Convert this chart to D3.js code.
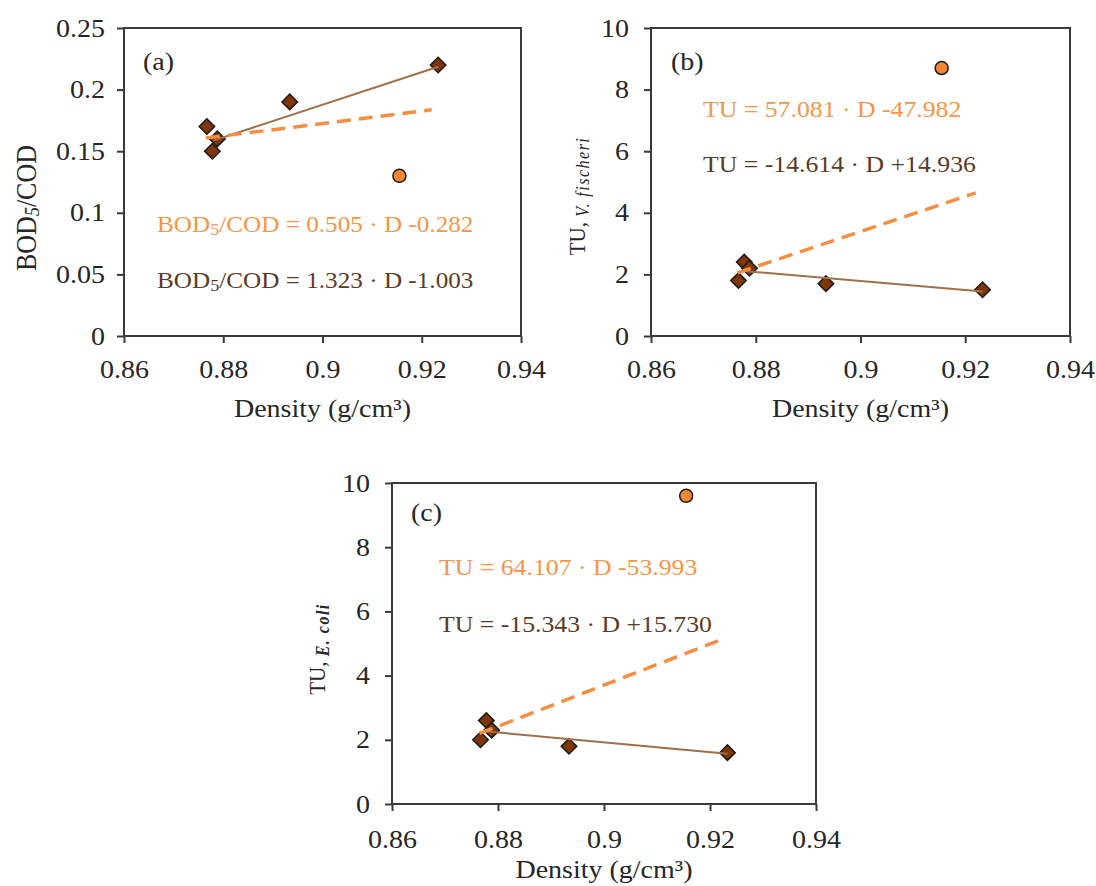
<!DOCTYPE html>
<html>
<head>
<meta charset="utf-8">
<script src="https://cdn.jsdelivr.net/npm/d3@7"></script>
<style>
  html, body { margin: 0; padding: 0; background: #fff; }
  svg { display: block; }
</style>
</head>
<body>
<svg id="chart" width="1096" height="886"></svg>
<script>
// data
var densities = [0.8767, 0.8778, 0.8788, 0.8934, 0.9233];
var outlierDensity = [0.9155];

var bodCod = [0.17, 0.15, 0.16, 0.19, 0.22];
var bodCodOutlier = [0.13];
var tuVFischeri = [1.8, 2.4, 2.2, 1.7, 1.5];
var tuVFischeriOutlier = [8.7];
var tuEColi = [2.0, 2.6, 2.3, 1.8, 1.6];
var tuEColiOutlier = [9.6];

var xTicks = [0.86, 0.88, 0.9, 0.92, 0.94];
var yTicksRatio = [0, 0.05, 0.1, 0.15, 0.2, 0.25];
var yTicksTU = [0, 2, 4, 6, 8, 10];

// trendlines as printed on the chart: [slope, intercept]
var fitAllA = [0.505, -0.282], fitBrownA = [1.323, -1.003];
var fitAllB = [57.081, -47.982], fitBrownB = [-14.614, 14.936];
var fitAllC = [64.107, -53.993], fitBrownC = [-15.343, 15.730];
var spanAll = [0.8765, 0.922];
var spanBrown = [0.878, 0.9233];

var eqAllB = "TU = 57.081 · D -47.982", eqBrownB = "TU = -14.614 · D +14.936";
var eqAllC = "TU = 64.107 · D -53.993", eqBrownC = "TU = -15.343 · D +15.730";

var svg = d3.select("#chart");
var SX = 1.12; // the figure text is a little wider than it is tall
var font = "'Liberation Serif', 'Times New Roman', serif";
var axisColor = "#3a3a3a",
    textColor = "#262626",
    orange = "#F79646",
    orangeLine = "#F58D42",
    circleFill = "#F58634",
    brownLine = "#A0704A",
    diamondFill = "#7E3508",
    brownText = "#5C3B24";

var panels = [
    { label: "(a)", left: 124, right: 521, top: 28, bottom: 336, ymax: 0.25, yTicks: yTicksRatio,
      ys: bodCod, yOut: bodCodOutlier, fitAll: fitAllA, fitBrown: fitBrownA, xPad: 17, yPad: 12,
      labelPos: [143, 70], eqX: 157, eqY: [231.5, 288], eqSize: 22.5 },
    { label: "(b)", left: 651, right: 1070, top: 28, bottom: 336, ymax: 10, yTicks: yTicksTU,
      ys: tuVFischeri, yOut: tuVFischeriOutlier, fitAll: fitAllB, fitBrown: fitBrownB, xPad: 17, yPad: 15,
      labelPos: [671, 70], eqX: 703, eqY: [117, 172], eqSize: 23, eq: [eqAllB, eqBrownB] },
    { label: "(c)", left: 392, right: 816, top: 483, bottom: 804, ymax: 10, yTicks: yTicksTU,
      ys: tuEColi, yOut: tuEColiOutlier, fitAll: fitAllC, fitBrown: fitBrownC, xPad: 19, yPad: 15,
      labelPos: [411, 521], eqX: 439, eqY: [575, 631.5], eqSize: 23, eq: [eqAllC, eqBrownC] }
];

function fmt(d) { return String(+d.toFixed(2)); }

function stretched(g, x, y, size, anchor) {
    return g.append("text")
        .attr("transform", "translate(" + x + "," + y + ") scale(" + SX + ",1)")
        .attr("font-family", font)
        .attr("font-size", size)
        .attr("text-anchor", anchor || "start");
}

panels.forEach(function(p, i) {
    var x = d3.scaleLinear().domain([0.86, 0.94]).range([p.left, p.right]);
    var y = d3.scaleLinear().domain([0, p.ymax]).range([p.bottom, p.top]);
    var g = svg.append("g");

    // x axis
    var gx = g.append("g")
        .attr("transform", "translate(0," + p.bottom + ")")
        .call(d3.axisBottom(x).tickValues(xTicks).tickFormat(fmt).tickSize(7).tickSizeOuter(0).tickPadding(p.xPad));
    // y axis
    var gy = g.append("g")
        .attr("transform", "translate(" + p.left + ",0)")
        .call(d3.axisLeft(y).tickValues(p.yTicks).tickFormat(fmt).tickSize(7).tickSizeOuter(0).tickPadding(p.yPad));

    [gx, gy].forEach(function(ax) {
        ax.select(".domain").remove();
        ax.attr("font-family", font).attr("font-size", 25);
        ax.selectAll(".tick line").attr("stroke", axisColor).attr("stroke-width", 2);
        ax.selectAll(".tick text").attr("fill", textColor).each(function() {
            var t = d3.select(this);
            t.attr("x", (+t.attr("x") || 0) / SX).attr("transform", "scale(" + SX + ",1)");
        });
    });

    // plot frame
    g.append("rect")
        .attr("x", p.left).attr("y", p.top)
        .attr("width", p.right - p.left).attr("height", p.bottom - p.top)
        .attr("fill", "none").attr("stroke", axisColor).attr("stroke-width", 2);

    // points
    g.append("g").selectAll("path")
        .data(densities.map(function(d, k) { return [d, p.ys[k]]; }))
        .enter().append("path")
        .attr("d", d3.symbol().type(d3.symbolSquare).size(120))
        .attr("transform", function(d) { return "translate(" + x(d[0]) + "," + y(d[1]) + ") rotate(45)"; })
        .attr("fill", diamondFill).attr("stroke", "#1a1a1a").attr("stroke-width", 1.5);

    g.append("g").selectAll("circle")
        .data(outlierDensity.map(function(d, k) { return [d, p.yOut[k]]; }))
        .enter().append("circle")
        .attr("cx", function(d) { return x(d[0]); })
        .attr("cy", function(d) { return y(d[1]); })
        .attr("r", 6.5)
        .attr("fill", circleFill).attr("stroke", "#1a1a1a").attr("stroke-width", 1.5);

    // trendlines
    var line = d3.line().x(function(d) { return x(d[0]); }).y(function(d) { return y(d[1]); });
    function fitPts(fit, span) { return span.map(function(d) { return [d, fit[0] * d + fit[1]]; }); }

    g.append("path").datum(fitPts(p.fitBrown, spanBrown))
        .attr("d", line).attr("fill", "none")
        .attr("stroke", brownLine).attr("stroke-width", 2);
    g.append("path").datum(fitPts(p.fitAll, spanAll))
        .attr("d", line).attr("fill", "none")
        .attr("stroke", orangeLine).attr("stroke-width", 3.5).attr("stroke-dasharray", "14,8");

    // panel label
    stretched(g, p.labelPos[0], p.labelPos[1], 25).attr("fill", textColor).text(p.label);

    // equations
    if (i === 0) {
        [[fitAllA, orange], [fitBrownA, brownText]].forEach(function(e, k) {
            var t = stretched(g, p.eqX, p.eqY[k], p.eqSize).attr("fill", e[1]);
            t.append("tspan").text("BOD");
            t.append("tspan").attr("font-size", p.eqSize * 0.72).attr("dy", 3).text("5");
            t.append("tspan").attr("dy", -3).text("/COD = " + e[0][0].toFixed(3) + " · D " + e[0][1].toFixed(3));
        });
    } else {
        stretched(g, p.eqX, p.eqY[0], p.eqSize).attr("fill", orange).text(p.eq[0]);
        stretched(g, p.eqX, p.eqY[1], p.eqSize).attr("fill", brownText).text(p.eq[1]);
    }

    // x title
    stretched(g, (p.left + p.right) / 2, i === 2 ? 878 : 417, 25, "middle")
        .attr("fill", textColor).text("Density (g/cm³)");
});

// y titles (rotated)
function yTitle(xb, yc, size) {
    return svg.append("text")
        .attr("transform", "translate(" + xb + "," + yc + ") rotate(-90) scale(1," + SX + ")")
        .attr("font-family", font).attr("font-size", size)
        .attr("text-anchor", "middle").attr("fill", textColor);
}

var ta = yTitle(36, 208, 26);
ta.append("tspan").text("BOD");
ta.append("tspan").attr("font-size", 18).attr("font-style", "italic").attr("dy", 3).text("5");
ta.append("tspan").attr("dy", -3).text("/COD");

var tb = yTitle(585, 196, 21);
tb.append("tspan").text("TU, ");
tb.append("tspan").attr("font-size", 16).attr("font-style", "italic").attr("letter-spacing", 1.5)
    .attr("dy", 4).text("V. fischeri");

var tc = yTitle(325, 649, 21);
tc.append("tspan").text("TU, ");
tc.append("tspan").attr("font-size", 16).attr("font-style", "italic").attr("font-weight", "bold")
    .attr("letter-spacing", 1.5).attr("dy", 4).text("E. coli");
</script>
</body>
</html>
